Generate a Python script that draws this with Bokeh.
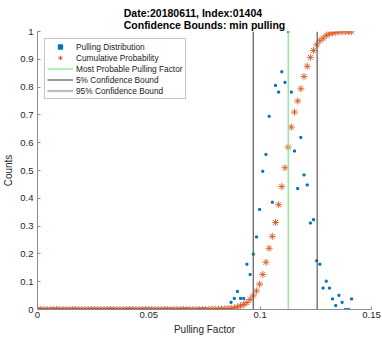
import numpy as np
from bokeh.plotting import figure
from bokeh.models import Legend, LegendItem, FixedTicker
from bokeh.embed import file_html
from bokeh.resources import INLINE

# ---- data ----
pulling_factor = np.linspace(0.0, 0.141075, 100)

distribution = [0.0] * 61 + [
    0.026, 0.040, 0.065, 0.040, 0.040, 0.163, 0.126, 0.199, 0.261, 0.360,
    0.497, 0.558, 0.695, 0.386, 0.806, 0.782, 0.855, 0.817, 1.000, 0.782,
    0.570, 0.435, 0.619, 0.484, 0.448, 0.311, 0.323, 0.175, 0.163, 0.077,
    0.102, 0.077, 0.038, 0.014, 0.051, 0.026, 0.000, 0.000, 0.038]

cumulative = [0.0] * 55 + [
    0.001, 0.001, 0.001, 0.002, 0.002, 0.003, 0.004, 0.006, 0.009, 0.013,
    0.018, 0.025, 0.036, 0.049, 0.067, 0.091, 0.126, 0.170, 0.220, 0.263,
    0.313, 0.377, 0.442, 0.510, 0.584, 0.656, 0.710, 0.750, 0.794, 0.838,
    0.875, 0.907, 0.932, 0.952, 0.967, 0.976, 0.986, 0.992, 0.995, 0.997,
    0.999, 0.999, 1.000, 1.000, 1.000]

most_probable = 0.1126
bound_5 = 0.0969
bound_95 = 0.1256

x_limits = (0, 0.15)
y_limits = (0, 1)
x_ticks = [0, 0.05, 0.1, 0.15]
x_tick_labels = ["0", "0.05", "0.1", "0.15"]
y_ticks = [0, 0.1, 0.2, 0.3, 0.4, 0.5, 0.6, 0.7, 0.8, 0.9, 1]
y_tick_labels = ["0", "0.1", "0.2", "0.3", "0.4", "0.5", "0.6", "0.7", "0.8", "0.9", "1"]

title_lines = ["Date:20180611, Index:01404", "Confidence Bounds: min pulling"]
legend_labels = ["Pulling Distribution", "Cumulative Probability",
                 "Most Probable Pulling Factor", "5% Confidence Bound",
                 "95% Confidence Bound"]

FONT = "Liberation Sans"
BLUE = "#0072BD"
ORANGE = "#D95319"
GREEN = "#7fe87f"
DARK = "#5a5a5a"
AXIS = "#8c8c8c"

p = figure(width=382, height=337, x_range=x_limits, y_range=y_limits,
           output_backend="svg", toolbar_location=None,
           title="\n".join(title_lines))

p.min_border_left = 36
p.min_border_right = 11
p.min_border_top = 31
p.min_border_bottom = 28
p.outline_line_color = None
p.background_fill_color = "white"
p.border_fill_color = "white"
p.xgrid.visible = False
p.ygrid.visible = False

p.title.align = "center"
p.title.text_font = FONT
p.title.text_font_size = "10.5px"
p.title.text_font_style = "bold"
p.title.text_color = "black"
p.title.standoff = 1
p.title.offset = 0

dist = p.scatter(pulling_factor, distribution, marker="square", size=2,
                 color=BLUE)
cdf = p.scatter(pulling_factor, cumulative, marker="asterisk", size=7,
                line_color=ORANGE, line_width=1, line_alpha=0.85)

g_line = p.line([most_probable, most_probable], list(y_limits),
                line_color=GREEN, line_width=1.2)
b5_line = p.line([bound_5, bound_5], list(y_limits),
                 line_color=DARK, line_width=1.2)
p.line([bound_95, bound_95], list(y_limits), line_color=DARK, line_width=1.2)
# legend stand-in for the 95% bound (drawn light in the reference legend)
b95_leg = p.line([np.nan], [np.nan], line_color="#bdbdbd", line_width=2.2)

legend = Legend(items=[
    LegendItem(label=legend_labels[0], renderers=[dist]),
    LegendItem(label=legend_labels[1], renderers=[cdf]),
    LegendItem(label=legend_labels[2], renderers=[g_line]),
    LegendItem(label=legend_labels[3], renderers=[b5_line]),
    LegendItem(label=legend_labels[4], renderers=[b95_leg]),
], location="top_left", margin=7, padding=2, spacing=0,
    glyph_width=26, glyph_height=11, label_height=11, label_standoff=3,
    label_text_font=FONT, label_text_font_size="8.3px",
    label_text_color="#1a1a1a",
    border_line_color=AXIS, border_line_width=1,
    background_fill_color="white", background_fill_alpha=1)
p.add_layout(legend)

for ax, ticks, labels, lab in ((p.xaxis, x_ticks, x_tick_labels, "Pulling Factor"),
                               (p.yaxis, y_ticks, y_tick_labels, "Counts")):
    ax.ticker = FixedTicker(ticks=ticks)
    ax.major_label_overrides = dict(zip(ticks, labels))
    ax.axis_label = lab
    ax.axis_label_text_font = FONT
    ax.axis_label_text_font_size = "10px"
    ax.axis_label_text_font_style = "normal"
    ax.axis_label_text_color = "#262626"
    ax.major_label_text_font = FONT
    ax.major_label_text_font_size = "9.5px"
    ax.major_label_text_color = "#262626"
    ax.axis_line_color = AXIS
    ax.major_tick_line_color = AXIS
    ax.major_tick_in = 3
    ax.major_tick_out = 0
    ax.minor_tick_line_color = None

p.xaxis.major_label_standoff = 2
p.xaxis.axis_label_standoff = 3
p.yaxis.major_label_standoff = 4
p.yaxis.axis_label_standoff = 3

open("out.html", "w").write(file_html(p, INLINE))
